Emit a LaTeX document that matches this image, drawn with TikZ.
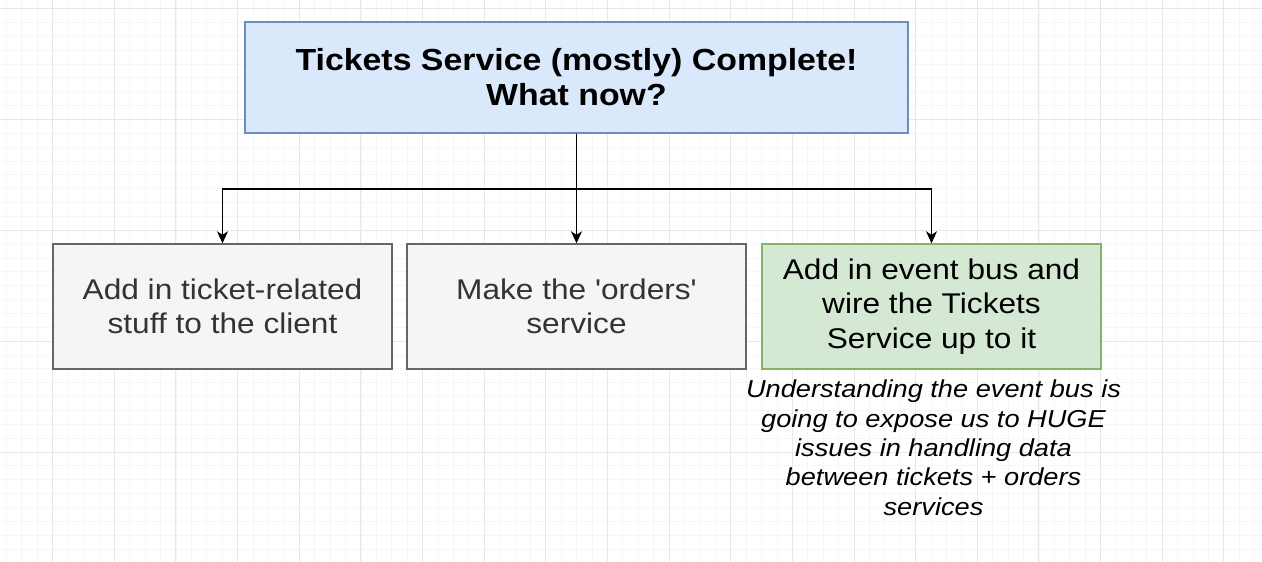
\documentclass[tikz,border=0pt]{standalone}
\usepackage{fontspec}
\newfontfamily\dfont[FakeStretch=1.11]{Liberation Sans}
\usetikzlibrary{arrows.meta}
\definecolor{gminor}{HTML}{F6F6F6}
\definecolor{gmajor}{HTML}{E8E8E8}
\definecolor{bluefill}{HTML}{DAE8FC}
\definecolor{bluestroke}{HTML}{6C8EBF}
\definecolor{grayfill}{HTML}{F5F5F5}
\definecolor{graystroke}{HTML}{666666}
\definecolor{graytext}{HTML}{333333}
\definecolor{greenfill}{HTML}{D5E8D4}
\definecolor{greenstroke}{HTML}{82B366}
\tikzset{
  minorline/.style={gminor, line width=0.8pt},
  majorline/.style={gmajor, line width=1pt},
  boxbase/.style={draw, line width=1.4pt, inner sep=0pt, align=center, minimum width=339pt, minimum height=125pt},
  titlebox/.style={boxbase, fill=bluefill, draw=bluestroke, minimum width=663pt, minimum height=111pt,
    font=\dfont\bfseries\fontsize{30.5}{35}\selectfont},
  graybox/.style={boxbase, fill=grayfill, draw=graystroke, text=graytext,
    font=\dfont\fontsize{28.5}{34.5}\selectfont},
  greenbox/.style={boxbase, fill=greenfill, draw=greenstroke, text=black,
    font=\dfont\fontsize{28.5}{34.5}\selectfont},
  note/.style={align=center, inner sep=0pt, font=\dfont\itshape\fontsize{24.5}{29.3}\selectfont},
  arr/.style={line width=1.4pt, black, -{Stealth[length=12pt, width=11pt, inset=3.5pt]}}
}
\begin{document}
\begin{tikzpicture}[x=1pt, y=-1pt]
\useasboundingbox (0,0) rectangle (1262,562);
\fill[white] (0,0) rectangle (1262,562);
\begin{scope}
\clip (0,0) rectangle (1262,562);
\foreach \k in {-3,...,78} \draw[minorline] ({52.7+\k*15.41},0) -- ++(0,562);
\foreach \k in {0,...,40} \draw[minorline] (0,{8.5+\k*13.86}) -- ++(1262,0);
\foreach \k in {-1,...,19} \draw[majorline] ({52.7+\k*61.64},0) -- ++(0,562);
\foreach \k in {0,...,5} \draw[majorline] (0,{8.5+\k*110.9}) -- ++(1262,0);
\end{scope}

\node[titlebox] (top) at (576.5,77.5) {Tickets Service (mostly) Complete!\\What now?};
\node[graybox] (b1) at (222.5,306.5) {Add in ticket-related\\stuff to the client};
\node[graybox] (b2) at (576.5,306.5) {Make the 'orders'\\service};
\node[greenbox] (b3) at (931.5,306.5) {Add in event bus and\\wire the Tickets\\Service up to it};
\node[note, anchor=north] (n3) at (933.5,380) {Understanding the event bus is\\going to expose us to HUGE\\issues in handling data\\between tickets + orders\\services};

\coordinate (j) at (576.5,189);
\draw[arr] (top.south) -- (j) -| (b1.north);
\draw[arr] (top.south) -- (b2.north);
\draw[arr] (top.south) -- (j) -| (b3.north);
\end{tikzpicture}
\end{document}
